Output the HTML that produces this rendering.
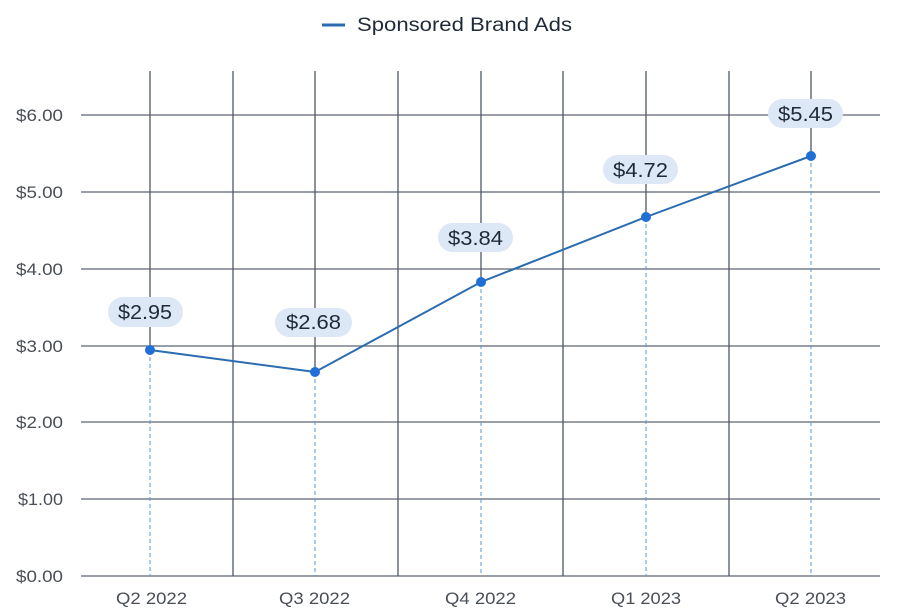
<!DOCTYPE html>
<html>
<head>
<meta charset="utf-8">
<style>
html,body{margin:0;padding:0;background:#fff;}
svg{display:block;}
text{font-family:"Liberation Sans",sans-serif;}
</style>
</head>
<body>
<svg width="897" height="613" viewBox="0 0 897 613" xmlns="http://www.w3.org/2000/svg">
<rect width="897" height="613" fill="#fff"/>
<!-- legend -->
<line x1="322" y1="25" x2="345" y2="25" stroke="#2a6cb0" stroke-width="3"/>
<text x="357" y="31" font-size="19" fill="#1f2a38" textLength="215" lengthAdjust="spacingAndGlyphs">Sponsored Brand Ads</text>

<!-- horizontal grid -->
<g stroke="#5d6570" stroke-width="1.3">
<line x1="81" y1="115" x2="880" y2="115"/>
<line x1="81" y1="192" x2="880" y2="192"/>
<line x1="81" y1="269" x2="880" y2="269"/>
<line x1="81" y1="346" x2="880" y2="346"/>
<line x1="81" y1="422" x2="880" y2="422"/>
<line x1="81" y1="499" x2="880" y2="499"/>
<line x1="81" y1="576" x2="880" y2="576"/>
</g>
<!-- vertical grid -->
<g stroke="#4f5863" stroke-width="1.3">
<line x1="233" y1="71" x2="233" y2="576"/>
<line x1="398" y1="71" x2="398" y2="576"/>
<line x1="563" y1="71" x2="563" y2="576"/>
<line x1="729" y1="71" x2="729" y2="576"/>
<line x1="150" y1="71" x2="150" y2="350"/>
<line x1="315" y1="71" x2="315" y2="372"/>
<line x1="481" y1="71" x2="481" y2="282"/>
<line x1="646" y1="71" x2="646" y2="217"/>
<line x1="811" y1="71" x2="811" y2="156"/>
</g>
<!-- dashed drop lines -->
<g stroke="#5b96d0" stroke-width="1" stroke-dasharray="4,3">
<line x1="150" y1="350" x2="150" y2="576"/>
<line x1="315" y1="372" x2="315" y2="576"/>
<line x1="481" y1="282" x2="481" y2="576"/>
<line x1="646" y1="217" x2="646" y2="576"/>
<line x1="811" y1="156" x2="811" y2="576"/>
</g>

<!-- y labels -->
<g font-size="17" fill="#4a4f57">
<text x="16" y="121" textLength="47" lengthAdjust="spacingAndGlyphs">$6.00</text>
<text x="16" y="198" textLength="47" lengthAdjust="spacingAndGlyphs">$5.00</text>
<text x="16" y="275" textLength="47" lengthAdjust="spacingAndGlyphs">$4.00</text>
<text x="16" y="352" textLength="47" lengthAdjust="spacingAndGlyphs">$3.00</text>
<text x="16" y="428" textLength="47" lengthAdjust="spacingAndGlyphs">$2.00</text>
<text x="18" y="505" textLength="45" lengthAdjust="spacingAndGlyphs">$1.00</text>
<text x="16" y="582" textLength="47" lengthAdjust="spacingAndGlyphs">$0.00</text>
</g>
<!-- x labels -->
<g font-size="17" fill="#4a4f57">
<text x="116" y="604" textLength="71" lengthAdjust="spacingAndGlyphs">Q2 2022</text>
<text x="279" y="604" textLength="71" lengthAdjust="spacingAndGlyphs">Q3 2022</text>
<text x="445" y="604" textLength="71" lengthAdjust="spacingAndGlyphs">Q4 2022</text>
<text x="611" y="604" textLength="70" lengthAdjust="spacingAndGlyphs">Q1 2023</text>
<text x="775" y="604" textLength="71" lengthAdjust="spacingAndGlyphs">Q2 2023</text>
</g>

<!-- series line -->
<polyline points="150,350 315,372 481,282 646,217 811,156" fill="none" stroke="#2a6cb0" stroke-width="2"/>
<g fill="#1f6fd6">
<circle cx="150" cy="350" r="5"/>
<circle cx="315" cy="372" r="5"/>
<circle cx="481" cy="282" r="5"/>
<circle cx="646" cy="217" r="5"/>
<circle cx="811" cy="156" r="5"/>
</g>

<!-- value pills -->
<g fill="#dde8f6">
<rect x="108" y="297" width="75" height="30" rx="15"/>
<rect x="275" y="308" width="77" height="29" rx="14.5"/>
<rect x="438" y="223" width="75" height="29" rx="14.5"/>
<rect x="603" y="155" width="75" height="29" rx="14.5"/>
<rect x="768" y="99" width="75" height="29" rx="14.5"/>
</g>
<g font-size="20" fill="#1f2a38">
<text x="118" y="319" textLength="54" lengthAdjust="spacingAndGlyphs">$2.95</text>
<text x="286" y="329" textLength="55" lengthAdjust="spacingAndGlyphs">$2.68</text>
<text x="448" y="245" textLength="55" lengthAdjust="spacingAndGlyphs">$3.84</text>
<text x="613" y="177" textLength="55" lengthAdjust="spacingAndGlyphs">$4.72</text>
<text x="778" y="121" textLength="55" lengthAdjust="spacingAndGlyphs">$5.45</text>
</g>
</svg>
</body>
</html>
